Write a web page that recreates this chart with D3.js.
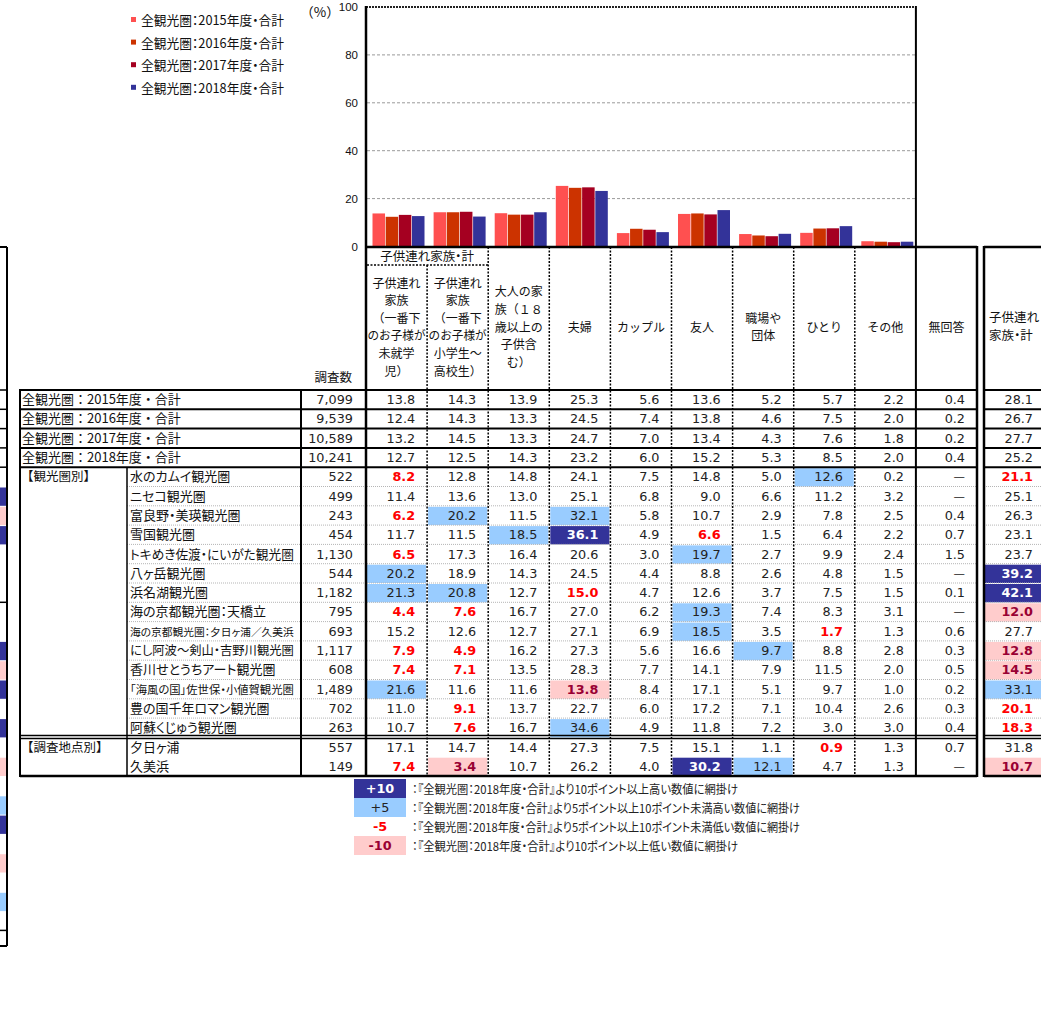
<!DOCTYPE html>
<html><head><meta charset="utf-8">
<script src="https://cdn.jsdelivr.net/npm/d3@7"></script>
<style>body{margin:0;background:#fff}svg{display:block}.palt{font-feature-settings:"palt" 1}</style>
</head><body>
<svg id="c" width="1041" height="1029"></svg>
<script>
// ---------- DATA ----------
const seriesNames = ["全観光圏：2015年度・合計","全観光圏：2016年度・合計","全観光圏：2017年度・合計","全観光圏：2018年度・合計"];
const chartCategories = ["子供連れ（未就学児）","子供連れ（小学生～高校生）","大人の家族","夫婦","カップル","友人","職場や団体","ひとり","その他"];
const values2015 = [13.8,14.3,13.9,25.3,5.6,13.6,5.2,5.7,2.2];
const values2016 = [12.4,14.3,13.3,24.5,7.4,13.8,4.6,7.5,2.0];
const values2017 = [13.2,14.5,13.3,24.7,7.0,13.4,4.3,7.6,1.8];
const values2018 = [12.7,12.5,14.3,23.2,6.0,15.2,5.3,8.5,2.0];
const yTicks = [0,20,40,60,80,100];
const yUnit = "（%）";

const columnKeys = ["c1","c2","c3","c4","c5","c6","c7","c8","c9","c10"];
const columnHeaderLines = [
  ["子供連れ","家族","（一番下","のお子様が","未就学","児）"],
  ["子供連れ","家族","（一番下","のお子様が","小学生～","高校生）"],
  ["大人の家","族（１８","歳以上の","子供含","む）"],
  ["夫婦"],["カップル"],["友人"],["職場や","団体"],["ひとり"],["その他"],["無回答"]
];
const groupHeader = "子供連れ家族・計";
const countHeader = "調査数";
const rightHeaderLines = ["子供連れ","家族・計"];

const rowGroups = ["","","","","【観光圏別】","","","","","","","","","","","","","","【調査地点別】",""];
const rowLabels = ["全観光圏：2015年度・合計","全観光圏：2016年度・合計","全観光圏：2017年度・合計","全観光圏：2018年度・合計",
  "水のカムイ観光圏","ニセコ観光圏","富良野・美瑛観光圏","雪国観光圏","トキめき佐渡・にいがた観光圏","八ヶ岳観光圏","浜名湖観光圏",
  "海の京都観光圏：天橋立","海の京都観光圏：夕日ヶ浦／久美浜","にし阿波～剣山・吉野川観光圏","香川せとうちアート観光圏",
  "「海風の国」佐世保・小値賀観光圏","豊の国千年ロマン観光圏","阿蘇くじゅう観光圏","夕日ヶ浦","久美浜"];
const rowCounts = [7099,9539,10589,10241,522,499,243,454,1130,544,1182,795,693,1117,608,1489,702,263,557,149];
const rowValues = [
  [13.8,14.3,13.9,25.3,5.6,13.6,5.2,5.7,2.2,0.4],
  [12.4,14.3,13.3,24.5,7.4,13.8,4.6,7.5,2.0,0.2],
  [13.2,14.5,13.3,24.7,7.0,13.4,4.3,7.6,1.8,0.2],
  [12.7,12.5,14.3,23.2,6.0,15.2,5.3,8.5,2.0,0.4],
  [8.2,12.8,14.8,24.1,7.5,14.8,5.0,12.6,0.2,null],
  [11.4,13.6,13.0,25.1,6.8,9.0,6.6,11.2,3.2,null],
  [6.2,20.2,11.5,32.1,5.8,10.7,2.9,7.8,2.5,0.4],
  [11.7,11.5,18.5,36.1,4.9,6.6,1.5,6.4,2.2,0.7],
  [6.5,17.3,16.4,20.6,3.0,19.7,2.7,9.9,2.4,1.5],
  [20.2,18.9,14.3,24.5,4.4,8.8,2.6,4.8,1.5,null],
  [21.3,20.8,12.7,15.0,4.7,12.6,3.7,7.5,1.5,0.1],
  [4.4,7.6,16.7,27.0,6.2,19.3,7.4,8.3,3.1,null],
  [15.2,12.6,12.7,27.1,6.9,18.5,3.5,1.7,1.3,0.6],
  [7.9,4.9,16.2,27.3,5.6,16.6,9.7,8.8,2.8,0.3],
  [7.4,7.1,13.5,28.3,7.7,14.1,7.9,11.5,2.0,0.5],
  [21.6,11.6,11.6,13.8,8.4,17.1,5.1,9.7,1.0,0.2],
  [11.0,9.1,13.7,22.7,6.0,17.2,7.1,10.4,2.6,0.3],
  [10.7,7.6,16.7,34.6,4.9,11.8,7.2,3.0,3.0,0.4],
  [17.1,14.7,14.4,27.3,7.5,15.1,1.1,0.9,1.3,0.7],
  [7.4,3.4,10.7,26.2,4.0,30.2,12.1,4.7,1.3,null]
];
const rightValues = [28.1,26.7,27.7,25.2,21.1,25.1,26.3,23.1,23.7,39.2,42.1,12.0,27.7,12.8,14.5,33.1,20.1,18.3,31.8,10.7];
// marks: . none, r = -5, p = -10, l = +5, d = +10 (10 columns + right column)
const rowMarks = ["...........","...........","...........","...........",
  "r......l..r","...........","rl.l.......","..ld.r.....","r....l.....","l.........d","ll.r......d",
  "rr...l....p",".....l.r...","rr....l...p","rr........p","l..p......l",".r........r",".r.l......r",
  ".......r...","rp...dl...p"];
const leftFragmentMarks = ".....dpd.....dpd.d.p.ld.p.l..";
const legendKeys = ["+10","+5","-5","-10"];
const legendCodes = ["d","l","r","p"];
const legendTexts = ["：『全観光圏：2018年度・合計』より10ポイント以上高い数値に網掛け",
  "：『全観光圏：2018年度・合計』より5ポイント以上10ポイント未満高い数値に網掛け",
  "：『全観光圏：2018年度・合計』より5ポイント以上10ポイント未満低い数値に網掛け",
  "：『全観光圏：2018年度・合計』より10ポイント以上低い数値に網掛け"];

// ---------- STYLE ----------
const seriesColors = ["#FF5050","#CC3300","#A50021","#333399"];
const markFill = {d:"#333399", l:"#99CCFF", p:"#FFCCCC", r:"none", ".":"none"};
const markText = {d:"#FFFFFF", l:"#222", p:"#990033", r:"#FF0000", ".":"#222"};
const markBold = {d:true, l:false, p:true, r:true, ".":false};
const JP = "'Noto Sans CJK JP','Noto Sans',sans-serif";
const NUM = "'DejaVu Sans',Verdana,sans-serif";

const svg = d3.select("#c");
const allSeries = [values2015, values2016, values2017, values2018];

function fitWidth(sel, target, tol) {
  sel.each(function() {
    const w = this.getComputedTextLength();
    if (Math.abs(w - target) > tol) d3.select(this).attr("textLength", target).attr("lengthAdjust", "spacingAndGlyphs");
  });
}

// ---------- SCALES ----------
const x = d3.scaleBand().domain(columnKeys).range([366, 977]);
const xSub = d3.scaleBand().domain(d3.range(4)).range([6.5, 58.5]).paddingInner(0.05);
const y = d3.scaleLinear().domain([0, 100]).range([246.5, 7]);
const rowY = d3.scaleBand().domain(d3.range(rowLabels.length)).range([390, 776]);
const chartRight = x(columnKeys[9]);

// ---------- BAR CHART ----------
const grid = svg.append("g");
grid.selectAll("line").data(yTicks.filter(t => t > 0 && t < 100)).join("line")
  .attr("x1", 367).attr("x2", chartRight).attr("y1", d => y(d)).attr("y2", d => y(d))
  .attr("stroke", "#9a9a9a").attr("stroke-width", 1).attr("stroke-dasharray", "3,2");
svg.append("line").attr("x1", 366).attr("x2", chartRight).attr("y1", y(100)).attr("y2", y(100))
  .attr("stroke", "#222").attr("stroke-width", 2).attr("stroke-dasharray", "2,1");

const groups = svg.append("g").selectAll("g").data(chartCategories).join("g")
  .attr("transform", (d, i) => `translate(${x(columnKeys[i])},0)`);
groups.selectAll("rect").data((d, i) => allSeries.map((s, k) => ({k, v: s[i]}))).join("rect")
  .attr("x", d => xSub(d.k)).attr("width", xSub.bandwidth())
  .attr("y", d => y(d.v)).attr("height", d => y(0) - y(d.v))
  .attr("fill", d => seriesColors[d.k]);

svg.append("g").selectAll("text").data(yTicks).join("text")
  .attr("x", 358).attr("y", d => y(d) + 4).attr("text-anchor", "end")
  .attr("font-family", "'Liberation Sans',Arial,sans-serif").attr("font-size", 11.5).attr("fill", "#111")
  .text(d => d);
svg.append("text").attr("x", 320).attr("y", 17).attr("text-anchor", "middle")
  .attr("font-family", JP).attr("font-size", 13.5).attr("fill", "#111").text(yUnit);

// legend
const lg = svg.append("g").selectAll("g").data(seriesNames).join("g")
  .attr("transform", (d, i) => `translate(131,${20 + i * 22.6})`);
lg.append("rect").attr("x", 0).attr("y", -3).attr("width", 5).attr("height", 5).attr("fill", (d, i) => seriesColors[i]);
fitWidth(lg.append("text").attr("x", 10).attr("y", 5).attr("class", "palt").attr("font-family", JP).attr("font-size", 13).attr("fill", "#111").text(d => d), 143, 2);

// ---------- TABLE ----------
const T = svg.append("g");
const colW = x.bandwidth();

rowValues.forEach((vals, r) => {
  vals.forEach((v, c) => {
    const m = rowMarks[r][c];
    if (markFill[m] !== "none")
      T.append("rect").attr("x", x(columnKeys[c]) + 1).attr("y", rowY(r) + 1)
        .attr("width", colW - 2).attr("height", rowY.bandwidth() - 1).attr("fill", markFill[m]);
  });
  const mr = rowMarks[r][10];
  if (markFill[mr] !== "none")
    T.append("rect").attr("x", 985).attr("y", rowY(r) + 1).attr("width", 60).attr("height", rowY.bandwidth() - 1).attr("fill", markFill[mr]);
});

leftFragmentMarks.split("").forEach((m, i) => {
  if (markFill[m] !== "none")
    T.append("rect").attr("x", 0).attr("y", 390 + i * rowY.step() + 1).attr("width", 6).attr("height", rowY.step() - 1).attr("fill", markFill[m]);
});

for (let r = 5; r < 18; r++) {
  T.append("line").attr("x1", 127).attr("x2", 977).attr("y1", rowY(r)).attr("y2", rowY(r))
    .attr("stroke", "#b5b5b5").attr("stroke-width", 1).attr("stroke-dasharray", "1,1");
  T.append("line").attr("x1", 984).attr("x2", 1041).attr("y1", rowY(r)).attr("y2", rowY(r))
    .attr("stroke", "#b5b5b5").attr("stroke-width", 1).attr("stroke-dasharray", "1,1");
}

function hline(x1, x2, yy, w, dash) {
  const l = T.append("line").attr("x1", x1).attr("x2", x2).attr("y1", yy).attr("y2", yy).attr("stroke", "#000").attr("stroke-width", w);
  if (dash) l.attr("stroke-dasharray", dash);
}
function vline(xx, y1, y2, w, dash) {
  const l = T.append("line").attr("x1", xx).attr("x2", xx).attr("y1", y1).attr("y2", y2).attr("stroke", "#000").attr("stroke-width", w);
  if (dash) l.attr("stroke-dasharray", dash);
}

[0, 1, 2, 3, 4].forEach(r => {
  hline(20, 977, rowY(r), 2);
  hline(984, 1041, rowY(r), 2);
  hline(0, 7, rowY(r), 1.5);
});
hline(0, 7, 390 + 11 * rowY.step(), 1.5);
hline(0, 7, 390 + 28 * rowY.step(), 1.5);
hline(0, 7, 946, 2);
hline(0, 7, 247, 2);
vline(7, 247, 946, 2);

hline(20, 977, rowY(18) - 2, 1.5); hline(20, 977, rowY(18) + 1, 1.5);
hline(984, 1041, rowY(18) - 2, 1.5); hline(984, 1041, rowY(18) + 1, 1.5);
hline(20, 977, 776, 2.5); hline(984, 1041, 776, 2.5);

hline(366, 977, 247, 2.5);
hline(984, 1041, 247, 2.5);
hline(367, x("c3"), 265, 1.5, "2,1.5");

vline(20, 389, 777, 2);
vline(127, rowY(4), 777, 1.5);
vline(301, 389, 777, 2);
vline(366, 6, 777, 2.5);
vline(x("c2"), 265, 776, 1.5, "2,1.5");
["c3","c4","c5","c6","c7","c8","c9"].forEach(k => vline(x(k), 247, 776, 1.5, "2,1.5"));
vline(chartRight, 6, 777, 2);
vline(977, 246, 777, 2.5);
vline(984, 246, 777, 2.5);

// header texts
T.append("text").attr("x", (x("c1") + x("c3")) / 2).attr("y", 261).attr("text-anchor", "middle").attr("class", "palt")
  .attr("font-family", JP).attr("font-size", 12.5).attr("fill", "#111").text(groupHeader);
columnHeaderLines.forEach((lines, c) => {
  const cx = x(columnKeys[c]) + colW / 2;
  const n = lines.length, sp = 17.6;
  lines.forEach((t, j) => {
    const tx = T.append("text").attr("x", cx).attr("y", 327 + (j - (n - 1) / 2) * sp + 4.5).attr("text-anchor", "middle")
      .attr("font-family", JP).attr("font-size", 12).attr("fill", "#111").text(t);
    const w = tx.node().getComputedTextLength();
    if (w > colW - 3) tx.attr("textLength", colW - 3).attr("lengthAdjust", "spacingAndGlyphs");
  });
});
rightHeaderLines.forEach((t, j) => {
  T.append("text").attr("x", 989).attr("y", 317 + j * 18 + 4.5).attr("class", "palt").attr("font-family", JP).attr("font-size", 12.5).attr("fill", "#111").text(t);
});
T.append("text").attr("x", 352).attr("y", 382).attr("text-anchor", "end")
  .attr("font-family", JP).attr("font-size", 12.5).attr("fill", "#111").text(countHeader);

const fmtCount = d3.format(",");
const fmtVal = d3.format(".1f");
rowLabels.forEach((lab, r) => {
  const cy = rowY(r) + rowY.bandwidth() / 2 + 4.5;
  if (r < 4) {
    T.append("text").attr("x", 22).attr("y", cy).attr("font-family", JP).attr("font-size", 13).attr("fill", "#111").text(lab);
  } else {
    const t = T.append("text").attr("x", 130).attr("y", cy).attr("class", "palt").attr("font-family", JP).attr("font-size", 13).attr("fill", "#111").text(lab);
    const w = t.node().getComputedTextLength();
    if (w > 164) t.attr("font-size", 13 * 164 / w);
  }
  if (rowGroups[r]) T.append("text").attr("x", 21).attr("y", cy).attr("font-family", JP).attr("font-size", 12.5).attr("fill", "#111").text(rowGroups[r]);
  T.append("text").attr("x", 353).attr("y", cy).attr("text-anchor", "end").attr("font-family", NUM).attr("font-size", 12.8).attr("fill", "#222").text(fmtCount(rowCounts[r]));
  rowValues[r].forEach((v, c) => {
    const m = rowMarks[r][c];
    T.append("text").attr("x", x(columnKeys[c]) + colW - 12).attr("y", cy).attr("text-anchor", "end")
      .attr("font-family", v === null ? JP : NUM).attr("font-size", 12.8)
      .attr("font-weight", markBold[m] ? "bold" : "normal").attr("fill", markText[m])
      .text(v === null ? "—" : fmtVal(v));
  });
  const mr = rowMarks[r][10];
  T.append("text").attr("x", 1033).attr("y", cy).attr("text-anchor", "end").attr("font-family", NUM).attr("font-size", 12.8)
    .attr("font-weight", markBold[mr] ? "bold" : "normal").attr("fill", markText[mr]).text(fmtVal(rightValues[r]));
});

// ---------- BOTTOM LEGEND ----------
const bl = svg.append("g").selectAll("g").data(legendKeys).join("g")
  .attr("transform", (d, i) => `translate(354,${779 + i * 19})`);
bl.append("rect").attr("width", 52).attr("height", 19).attr("fill", (d, i) => markFill[legendCodes[i]] === "none" ? "#fff" : markFill[legendCodes[i]]);
bl.append("text").attr("x", 26).attr("y", 14).attr("text-anchor", "middle").attr("font-family", NUM).attr("font-size", 12.8)
  .attr("font-weight", (d, i) => legendCodes[i] === "l" ? "normal" : "bold").attr("fill", (d, i) => markText[legendCodes[i]]).text(d => d);
bl.append("text").attr("x", 58).attr("y", 14.5).attr("class", "palt").attr("font-family", JP).attr("font-size", 12).attr("fill", "#222")
  .text((d, i) => legendTexts[i])
  .each(function(d, i) { const target = (i === 0 || i === 3) ? 326 : 388; const w = this.getComputedTextLength(); if (w > target) d3.select(this).attr("textLength", target).attr("lengthAdjust", "spacingAndGlyphs"); });
</script>
</body></html>
